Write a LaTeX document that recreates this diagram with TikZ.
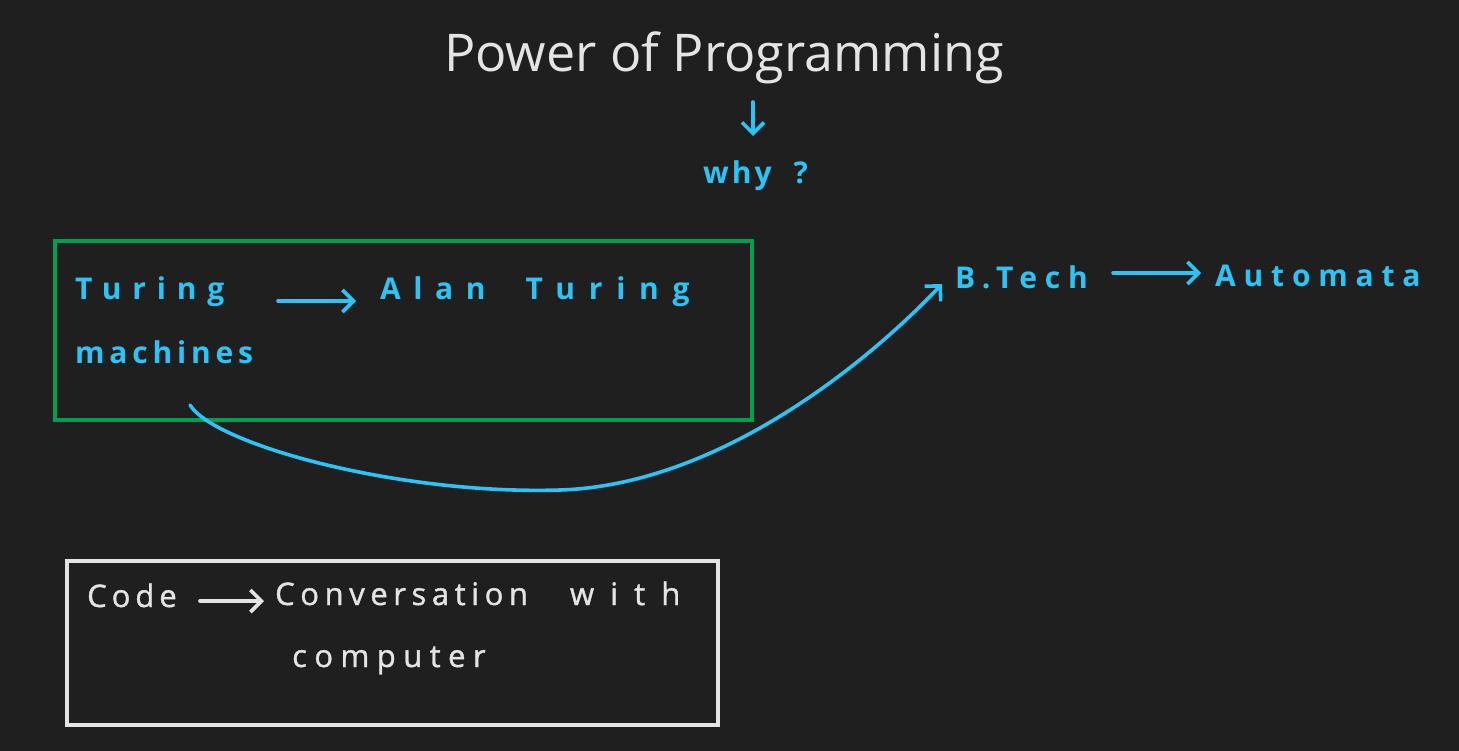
\documentclass[tikz,border=0pt]{standalone}
\usepackage{fontspec}
\setmainfont{Open Sans}
\newfontfamily\hand{Open Sans}
\newfontfamily\handw[FakeBold=1.2]{Open Sans}
\newcommand{\ls}[2]{{\addfontfeature{LetterSpace=#1}#2}}
\usetikzlibrary{arrows.meta}
\definecolor{bg}{RGB}{31,31,31}
\definecolor{hblue}{RGB}{45,195,245}
\definecolor{hgreen}{RGB}{0,160,80}
\definecolor{hwhite}{RGB}{228,228,228}
\tikzset{
  btext/.style={text=hblue, inner sep=0pt, anchor=base west, font=\hand\bfseries\fontsize{30}{34}\selectfont},
  wtext/.style={text=hwhite, inner sep=0pt, anchor=base west, font=\handw\fontsize{31}{36}\selectfont},
  arr/.style={draw=hblue, line width=3.6pt, line cap=round, line join=round, -{Straight Barb[length=11pt,width=22pt,line width=3.6pt]}},
  warr/.style={arr, draw=hwhite},
  gbox/.style={draw=hgreen, line width=4pt, minimum width=697pt, minimum height=179pt, inner sep=0pt},
  wbox/.style={draw=hwhite, line width=4pt, minimum width=651pt, minimum height=164pt, inner sep=0pt}
}
\begin{document}
\begin{tikzpicture}[x=1pt,y=-1pt]
\fill[bg] (0,0) rectangle (1459,751);
\useasboundingbox (0,0) rectangle (1459,751);
% title
\node[text=hwhite, inner sep=0pt, anchor=base, font=\fontsize{52}{60}\selectfont] (title) at (724,72) {Power of Programming};
\node[btext] (why) at (703,184) {\ls{10}{why}\hspace{22pt}?};
\coordinate (w1) at (753,102);
\coordinate (w2) at (753,136);
\draw[arr] (w1) -- (w2);
% green box
\node[gbox] (gbox) at (403.5,330.5) {};
\node[btext] (turing) at (75,300) {\ls{36}{Turing}};
\node[btext] (mach) at (75,363) {\ls{16}{machines}};
\node[btext] (alan) at (380,300) {\ls{42}{Alan}\hspace{40pt}\ls{46}{Turing}};
\coordinate (t1) at (278,301);
\coordinate (t2) at (356,301);
\draw[arr] (t1) -- (t2);
% B.Tech line
\node[btext] (btech) at (955,289) {\ls{26}{B.Tech}};
\node[btext] (auto) at (1215,287) {\ls{26}{Automata}};
\coordinate (b1) at (1113,273);
\coordinate (b2) at (1201,273);
\draw[arr] (b1) -- (b2);
% curve
\coordinate (c0) at (190,405);
\coordinate (cm) at (560,490);
\coordinate (c1) at (942,284);
\draw[arr] (c0) .. controls (215,445) and (400,495) .. (cm) .. controls (720,485) and (870,360) .. (c1);
% white box
\node[wbox] (wbox) at (392.5,643) {};
\node[wtext] (code) at (87,607) {\ls{16}{Code}};
\node[wtext] (conv) at (275,605) {\ls{18}{Conversation}\hspace{42pt}\ls{52}{with}};
\node[wtext] (comp) at (292,667) {\ls{24}{computer}};
\coordinate (k1) at (200,601);
\coordinate (k2) at (264,601);
\draw[warr] (k1) -- (k2);
\end{tikzpicture}
\end{document}
